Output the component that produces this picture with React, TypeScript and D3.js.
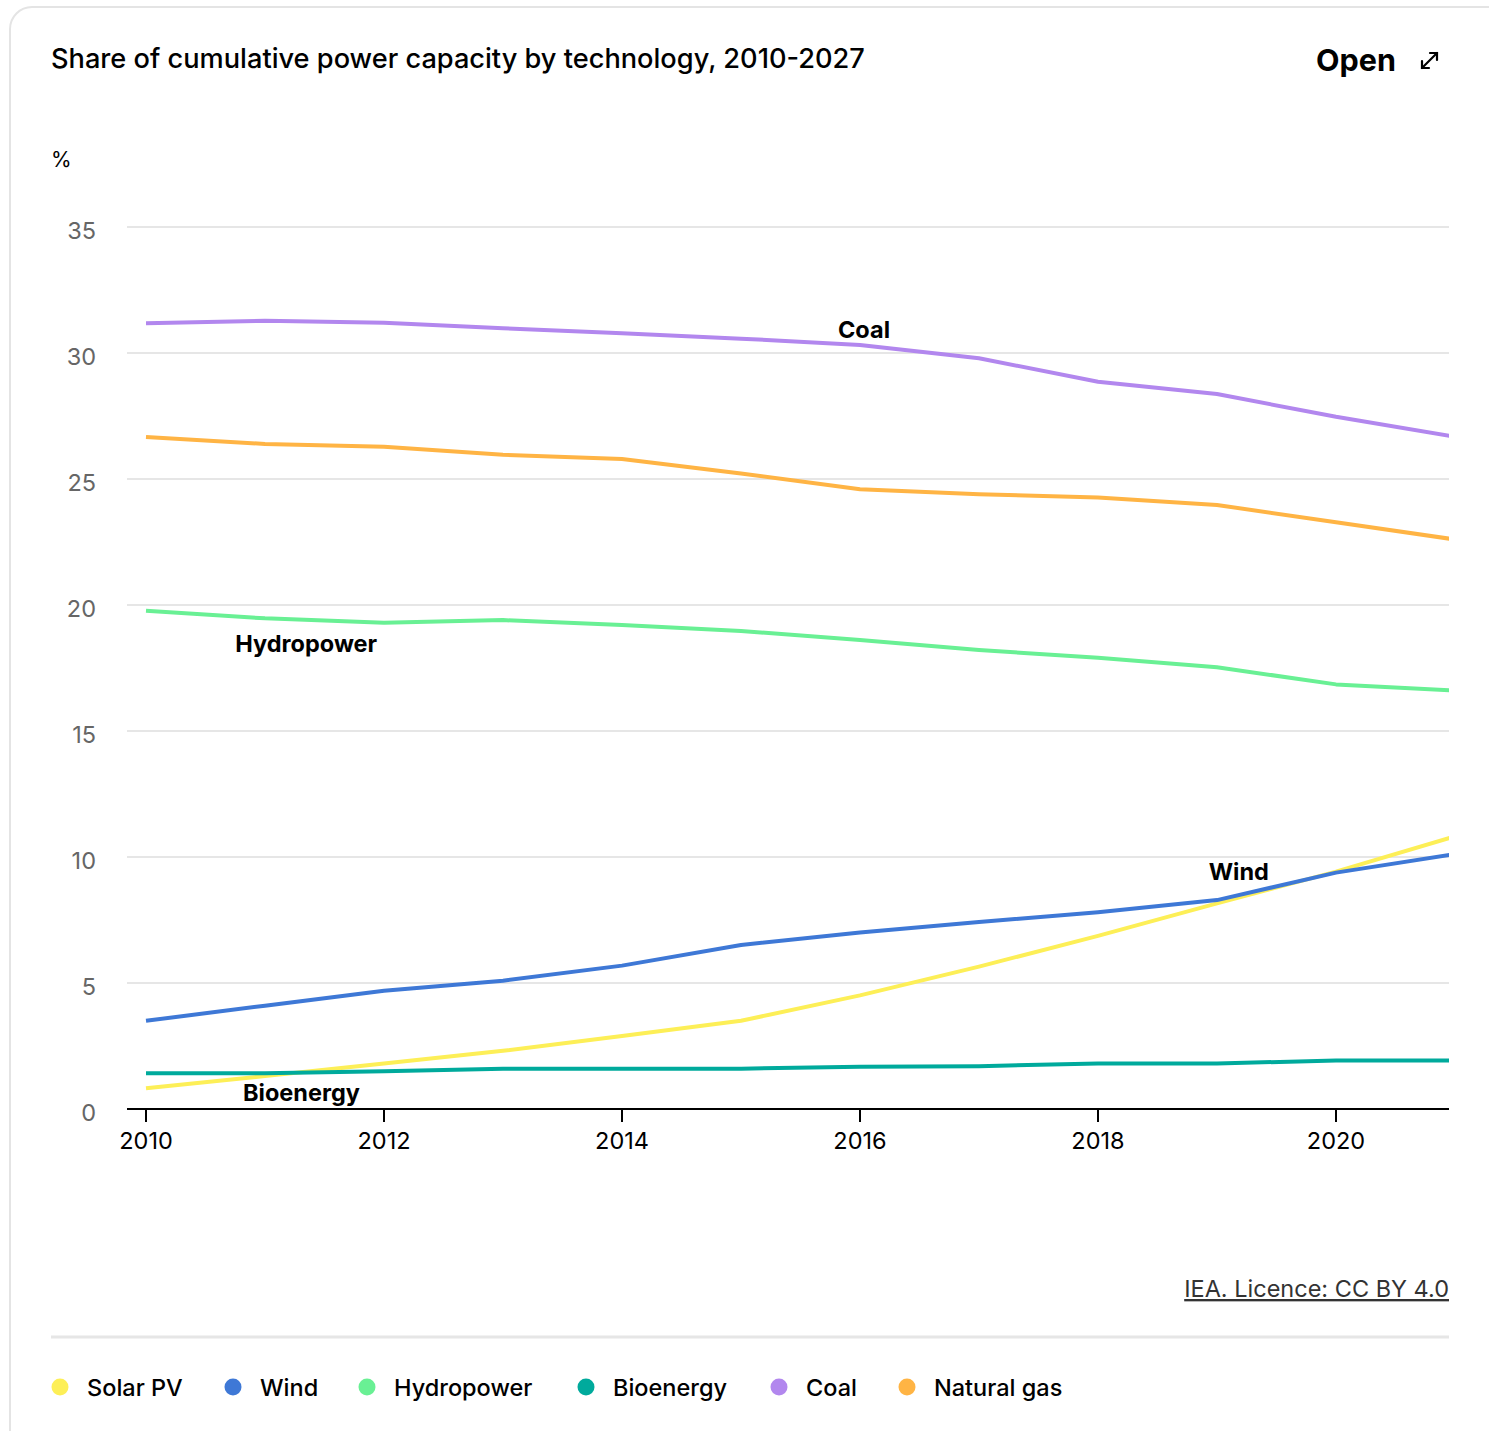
import React from "react";
import * as d3 from "d3";

// Share of cumulative installed capacity (%) by technology
const years = [2010, 2011, 2012, 2013, 2014, 2015, 2016, 2017, 2018, 2019, 2020, 2021];
const solarPV = [0.82, 1.31, 1.81, 2.31, 2.9, 3.5, 4.51, 5.65, 6.87, 8.16, 9.42, 10.82];
const wind = [3.5, 4.1, 4.69, 5.09, 5.69, 6.51, 7.0, 7.42, 7.81, 8.29, 9.38, 10.12];
const hydropower = [19.77, 19.47, 19.3, 19.4, 19.21, 18.97, 18.61, 18.21, 17.91, 17.53, 16.85, 16.6];
const bioenergy = [1.42, 1.42, 1.5, 1.6, 1.6, 1.6, 1.68, 1.7, 1.81, 1.81, 1.92, 1.92];
const coal = [31.18, 31.28, 31.2, 30.98, 30.78, 30.57, 30.32, 29.79, 28.86, 28.37, 27.47, 26.68];
const naturalGas = [26.67, 26.39, 26.28, 25.96, 25.79, 25.22, 24.59, 24.39, 24.27, 23.97, 23.28, 22.6];

const yTicks = [0, 5, 10, 15, 20, 25, 30, 35];
const xTicks = [2010, 2012, 2014, 2016, 2018, 2020];

const series = [
  { name: "Solar PV", values: solarPV, color: "#fdef57" },
  { name: "Wind", values: wind, color: "#3e78d6" },
  { name: "Hydropower", values: hydropower, color: "#69f094" },
  { name: "Bioenergy", values: bioenergy, color: "#00aa9c" },
  { name: "Coal", values: coal, color: "#b287ee" },
  { name: "Natural gas", values: naturalGas, color: "#ffb444" },
];

// In-chart series labels: [name, year position, value position]
const inlineLabels: [string, number, number][] = [
  ["Coal", 2015.815, 30.6],
  ["Hydropower", 2010.75, 18.15],
  ["Wind", 2018.93, 9.1],
  ["Bioenergy", 2010.815, 0.3],
];

const FONT = "Inter, 'Noto Sans', sans-serif";

export default function App() {
  const width = 1489;
  const height = 1431;
  const plotLeft = 127;
  const plotRight = 1449;

  const x = d3.scaleLinear().domain([2010, 2021]).range([146, 1455]);
  const y = d3.scaleLinear().domain([0, 35]).range([1109, 227]);

  const line = d3
    .line<number>()
    .x((_, i) => x(years[i]))
    .y((d) => y(d));

  const legendX = [60, 233, 367, 586, 779, 907];

  return (
    <svg
      width={width}
      height={height}
      style={{ position: "absolute", left: 0, top: 0, background: "#fff" }}
      fontFamily={FONT}
    >
      <defs>
        <clipPath id="plot-clip">
          <rect x={plotLeft} y={150} width={plotRight - plotLeft} height={1000} />
        </clipPath>
      </defs>

      {/* card outline */}
      <rect x={10} y={7} width={1500} height={1480} rx={22} fill="#fff" stroke="#e4e4e4" strokeWidth={2} />

      {/* title */}
      <text x={51} y={68} fontSize={27.2} fontWeight={500} fill="#000">
        Share of cumulative power capacity by technology, 2010-2027
      </text>
      <text x={1316} y={71} fontSize={30.5} fontWeight={700} fill="#000">
        Open
      </text>
      <g stroke="#000" strokeWidth={2.2} fill="none" strokeLinecap="round">
        <path d="M1422,68 L1437,53" />
        <path d="M1430,53 L1437,53 L1437,60" />
        <path d="M1422,61 L1422,68 L1429,68" />
      </g>

      {/* unit */}
      <text x={51} y={167} fontSize={21} fill="#000">
        %
      </text>

      {/* gridlines and y ticks */}
      {yTicks.map((t) => (
        <g key={t}>
          {t > 0 && (
            <line x1={plotLeft} x2={plotRight} y1={y(t)} y2={y(t)} stroke="#e6e6e6" strokeWidth={2} />
          )}
          <text x={96} y={y(t) + 12} fontSize={23.5} fill="#666" textAnchor="end">
            {t}
          </text>
        </g>
      ))}

      {/* lines */}
      <g clipPath="url(#plot-clip)">
        {series.map((s) => (
          <path
            key={s.name}
            d={line(s.values) ?? ""}
            fill="none"
            stroke={s.color}
            strokeWidth={4}
            strokeLinejoin="round"
          />
        ))}
      </g>

      {/* x axis */}
      <line x1={plotLeft} x2={plotRight} y1={y(0)} y2={y(0)} stroke="#000" strokeWidth={2} />
      {xTicks.map((t) => (
        <g key={t}>
          <line x1={x(t)} x2={x(t)} y1={y(0)} y2={y(0) + 13} stroke="#000" strokeWidth={2} />
          <text x={x(t)} y={y(0) + 40} fontSize={23.5} fill="#000" textAnchor="middle">
            {t}
          </text>
        </g>
      ))}

      {/* inline series labels */}
      {inlineLabels.map(([name, yr, v]) => (
        <text key={name} x={x(yr)} y={y(v)} fontSize={23.5} fontWeight={700} fill="#000">
          {name}
        </text>
      ))}

      {/* source */}
      <text x={plotRight} y={1297} fontSize={23.5} fill="#333" textAnchor="end" textDecoration="underline">
        IEA. Licence: CC BY 4.0
      </text>

      {/* separator */}
      <line x1={51} x2={plotRight} y1={1337} y2={1337} stroke="#e6e6e6" strokeWidth={3} />

      {/* legend */}
      {series.map((s, i) => (
        <g key={s.name} transform={`translate(${legendX[i]},1387)`}>
          <circle cx={0} cy={0} r={8.5} fill={s.color} />
          <text x={27} y={8.5} fontSize={23.5} fontWeight={500} fill="#000">
            {s.name}
          </text>
        </g>
      ))}
    </svg>
  );
}
